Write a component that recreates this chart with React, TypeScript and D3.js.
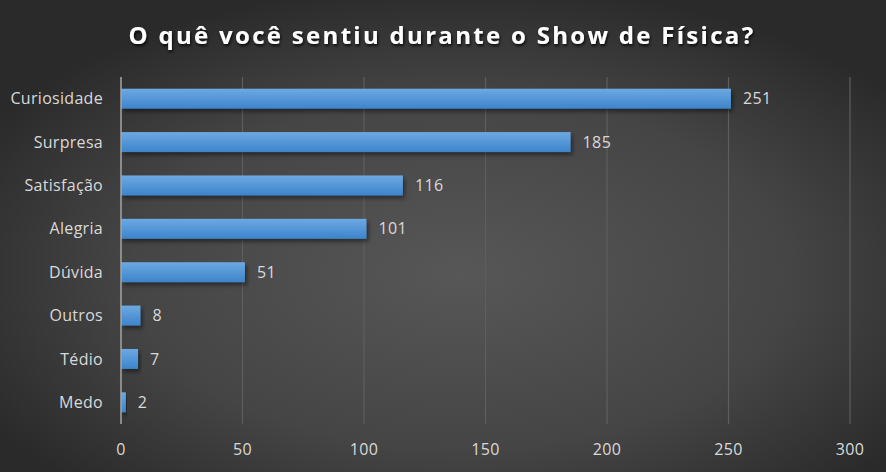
import * as d3 from 'd3';
import React from 'react';

const categories = ['Curiosidade', 'Surpresa', 'Satisfação', 'Alegria', 'Dúvida', 'Outros', 'Tédio', 'Medo'];
const values = [251, 185, 116, 101, 51, 8, 7, 2];
const xTicks = [0, 50, 100, 150, 200, 250, 300];
const title = 'O quê você sentiu durante o Show de Física?';

const width = 886;
const height = 472;
const margin = { top: 77, right: 36, bottom: 48, left: 121 };

const App: React.FC = () => {
  const innerWidth = width - margin.left - margin.right;
  const innerHeight = height - margin.top - margin.bottom;

  const xScale = d3.scaleLinear().domain([0, 300]).range([0, innerWidth]);
  const yScale = d3.scaleBand<string>().domain(categories).range([0, innerHeight]).paddingInner(0.54).paddingOuter(0.27);

  const font = "'Open Sans', sans-serif";
  const labelSize = 16;

  return (
    <>
      <style>{'body{margin:0}'}</style>
      <svg width={width} height={height} style={{ display: 'block' }}>
        <defs>
          <radialGradient id="bg" cx="52%" cy="58%" r="62%">
            <stop offset="0%" stopColor="#575757" />
            <stop offset="60%" stopColor="#454545" />
            <stop offset="100%" stopColor="#2a2a2a" />
          </radialGradient>
          <linearGradient id="bar" x1="0" y1="0" x2="0" y2="1">
            <stop offset="0%" stopColor="#6da9e2" />
            <stop offset="100%" stopColor="#3d84cb" />
          </linearGradient>
          <filter id="shadow" x="-10%" y="-30%" width="130%" height="180%">
            <feDropShadow dx="2" dy="3" stdDeviation="2.2" floodColor="#000" floodOpacity="0.45" />
          </filter>
          <filter id="tshadow" x="-5%" y="-30%" width="110%" height="170%">
            <feDropShadow dx="1" dy="2" stdDeviation="1.5" floodColor="#000" floodOpacity="0.8" />
          </filter>
        </defs>
        <rect width={width} height={height} fill="url(#bg)" />

        <text
          x={width / 2 - 1}
          y={44}
          textAnchor="middle"
          fill="#ffffff"
          fontFamily={font}
          fontWeight={700}
          fontSize={24}
          letterSpacing={2.3}
          filter="url(#tshadow)"
        >
          {title}
        </text>

        <g transform={`translate(${margin.left},${margin.top})`}>
          {xTicks.slice(1).map((t) => (
            <line key={`grid-${t}`} x1={xScale(t)} x2={xScale(t)} y1={0} y2={innerHeight} stroke="#5e5e5e" strokeWidth={1.2} />
          ))}

          {categories.map((c, i) => {
            const y = yScale(c);
            if (y === undefined) return null;
            return (
              <g key={c}>
                <rect
                  x={0}
                  y={y}
                  width={xScale(values[i])}
                  height={yScale.bandwidth()}
                  fill="url(#bar)"
                  filter="url(#shadow)"
                />
                <text
                  x={xScale(values[i]) + 12}
                  y={y + yScale.bandwidth() / 2}
                  dy="0.35em"
                  fill="#d9d9d9"
                  fontFamily={font}
                  fontSize={labelSize}
                  letterSpacing={0.4}
                >
                  {values[i]}
                </text>
                <text
                  x={-18}
                  y={y + yScale.bandwidth() / 2}
                  dy="0.35em"
                  textAnchor="end"
                  fill="#d9d9d9"
                  fontFamily={font}
                  fontSize={labelSize}
                  letterSpacing={0.3}
                >
                  {c}
                </text>
              </g>
            );
          })}

          <line x1={0} x2={0} y1={0} y2={innerHeight} stroke="#a6a6a6" strokeWidth={1.5} />

          {xTicks.map((t) => (
            <text
              key={`tick-${t}`}
              x={xScale(t)}
              y={innerHeight + 25}
              dy="0.35em"
              textAnchor="middle"
              fill="#d9d9d9"
              fontFamily={font}
              fontSize={labelSize}
              letterSpacing={0.4}
            >
              {t}
            </text>
          ))}
        </g>
      </svg>
    </>
  );
};

export default App;
